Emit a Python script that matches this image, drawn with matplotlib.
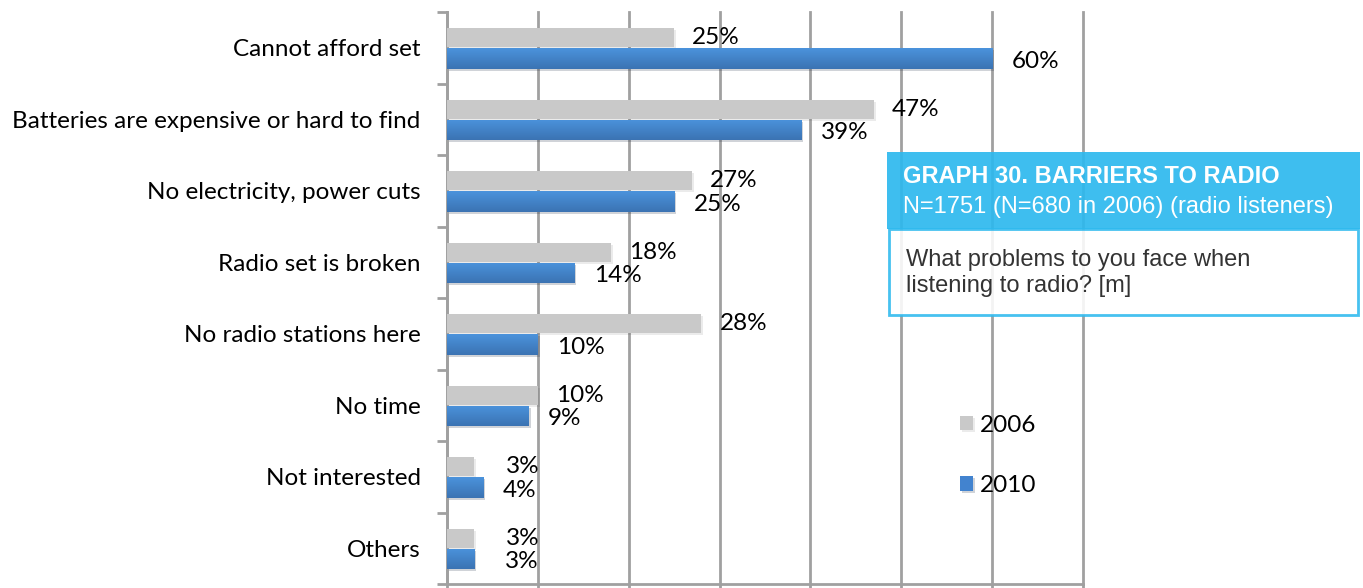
import matplotlib
matplotlib.use('Agg')
import matplotlib.pyplot as plt
import matplotlib.patheffects as pe
import numpy as np

categories = ['Cannot afford set', 'Batteries are expensive or hard to find',
              'No electricity, power cuts', 'Radio set is broken',
              'No radio stations here', 'No time', 'Not interested', 'Others']
values_2006 = [25, 47, 27, 18, 28, 10, 3, 3]
values_2010 = [60, 39, 25, 14, 10, 9, 4, 3]

plt.rcParams['font.family'] = ['Lato', 'DejaVu Sans']
FS = 17.5

fig = plt.figure(figsize=(13.63, 5.88), dpi=100)
ax = fig.add_axes([447 / 1363, 1 - 584 / 588, (1083 - 447) / 1363, 572 / 588])

y = np.arange(len(categories))
gray_bars = ax.barh(y - 0.14, values_2006, height=0.27, color='#C9C9C9', label='2006', zorder=3,
                    path_effects=[pe.SimplePatchShadow(offset=(1.5, -1.5), alpha=0.1), pe.Normal()])
blue_bars = ax.barh(y + 0.15, values_2010, height=0.29, color='#4283CF', label='2010', zorder=3,
                    path_effects=[pe.SimplePatchShadow(offset=(1.5, -1.5), alpha=0.2), pe.Normal()])

# vertical gradient on the blue bars
grad = np.linspace(0, 1, 64).reshape(-1, 1)
cmap = matplotlib.colors.LinearSegmentedColormap.from_list('b', ['#4B93DC', '#3B73B3'])
for b in blue_bars:
    x0, y0 = b.get_x(), b.get_y()
    im = ax.imshow(grad, cmap=cmap, aspect='auto', zorder=3.5,
                   extent=(x0, x0 + b.get_width(), y0 + b.get_height(), y0))
    im.set_clip_path(b)

for b, v in zip(gray_bars, values_2006):
    ax.annotate(f'{v}%', (b.get_width(), b.get_y() + b.get_height() / 2),
                xytext=(13 if v > 3 else 23, 0), textcoords='offset points',
                va='center', ha='left', fontsize=FS, zorder=5)
for b, v in zip(blue_bars, values_2010):
    ax.annotate(f'{v}%', (b.get_width(), b.get_y() + b.get_height() / 2),
                xytext=(14 if v > 3 else 22, -2), textcoords='offset points',
                va='center', ha='left', fontsize=FS, zorder=5)

ax.set_xlim(0, 70)
ax.set_ylim(len(categories) - 0.5, -0.5)
ax.set_xticks(np.arange(0, 71, 10))
ax.set_xticklabels([])
ax.set_yticks(y)
ax.set_yticklabels(categories, fontsize=FS)
ax.tick_params(axis='y', length=0, pad=19)
ax.set_yticks(np.arange(-0.5, len(categories), 1), minor=True)
ax.tick_params(axis='y', which='minor', length=7, width=2, color='#A0A0A0')
ax.tick_params(axis='x', length=5, width=2, color='#A0A0A0')
ax.grid(axis='x', color='#A0A0A0', linewidth=2, zorder=1)
for gl in ax.get_xgridlines():
    gl.set_clip_on(False)
ax.set_axisbelow(True)
for s in ['top', 'right']:
    ax.spines[s].set_visible(False)
for s in ['left', 'bottom']:
    ax.spines[s].set_color('#A0A0A0')
    ax.spines[s].set_linewidth(2)

ax.legend(loc='upper left', bbox_to_anchor=(0.806, 0.296), frameon=False, fontsize=FS,
          borderpad=0, borderaxespad=0, handlelength=0.55, handleheight=0.55,
          labelspacing=1.63, handletextpad=0.3)

# title box
fig.patches.append(plt.Rectangle((887 / 1363, 1 - 229 / 588), 473 / 1363, 77 / 588,
                                 transform=fig.transFigure, facecolor='#2DB9EE', alpha=0.92,
                                 edgecolor='none', zorder=10))
fig.patches.append(plt.Rectangle((889 / 1363, 1 - 315 / 588), 469 / 1363, 86 / 588,
                                 transform=fig.transFigure, facecolor='white', alpha=0.88,
                                 edgecolor='#2DB9EE', linewidth=2, zorder=10))
fig.text(903 / 1363, 1 - 177 / 588, 'GRAPH 30. BARRIERS TO RADIO', family='Liberation Sans',
         weight='bold', color='white', fontsize=17, va='center', zorder=11)
fig.text(903 / 1363, 1 - 207 / 588, 'N=1751 (N=680 in 2006) (radio listeners)', family='Liberation Sans',
         color='white', fontsize=17, va='center', zorder=11)
fig.text(906 / 1363, 1 - 273 / 588, 'What problems to you face when\nlistening to radio? [m]',
         family='Liberation Sans', color='#333333', fontsize=17, va='center', linespacing=1.2, zorder=11)

fig.savefig('out.png', dpi=100)
